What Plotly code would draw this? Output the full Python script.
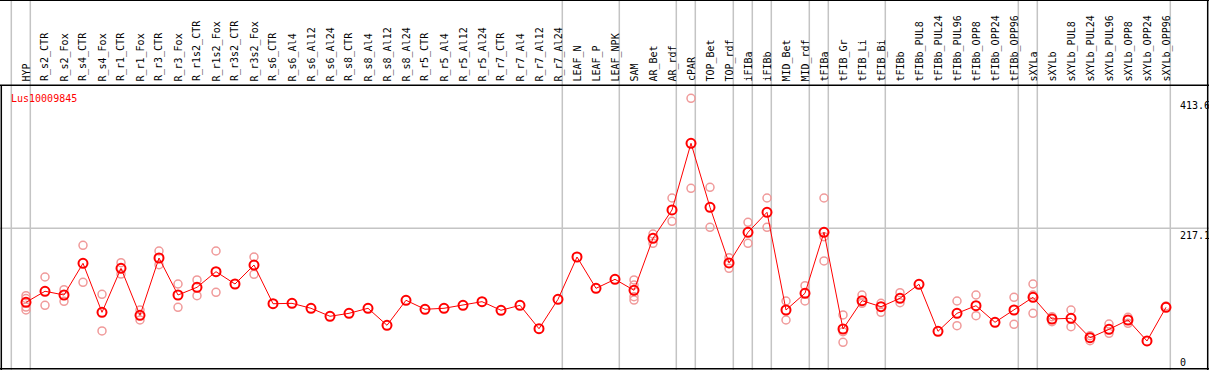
import plotly.graph_objects as go

categories = ["HYP", "R_s2_CTR", "R_s2_Fox", "R_s4_CTR", "R_s4_Fox", "R_r1_CTR", "R_r1_Fox",
              "R_r3_CTR", "R_r3_Fox", "R_r1s2_CTR", "R_r1s2_Fox", "R_r3s2_CTR", "R_r3s2_Fox",
              "R_s6_CTR", "R_s6_Al4", "R_s6_Al12", "R_s6_Al24", "R_s8_CTR", "R_s8_Al4",
              "R_s8_Al12", "R_s8_Al24", "R_r5_CTR", "R_r5_Al4", "R_r5_Al12", "R_r5_Al24",
              "R_r7_CTR", "R_r7_Al4", "R_r7_Al12", "R_r7_Al24", "LEAF_N", "LEAF_P", "LEAF_NPK",
              "SAM", "AR_Bet", "AR_rdf", "cPAR", "TOP_Bet", "TOP_rdf", "iFIBa", "iFIBb",
              "MID_Bet", "MID_rdf", "tFIBa", "tFIB_Gr", "tFIB_Li", "tFIB_Bi", "tFIBb",
              "tFIBb_PUL8", "tFIBb_PUL24", "tFIBb_PUL96", "tFIBb_OPP8", "tFIBb_OPP24",
              "tFIBb_OPP96", "sXYLa", "sXYLb", "sXYLb_PUL8", "sXYLb_PUL24", "sXYLb_PUL96",
              "sXYLb_OPP8", "sXYLb_OPP24", "sXYLb_OPP96"]

mean_values = [105.3, 121.9, 116.3, 164.2, 90.1, 156.6, 85.6, 172.2, 116.3, 127.9, 151.5, 132.9,
               161.6, 103.1, 103.7, 96.2, 84.1, 88.6, 96.2, 70.5, 108.3, 94.7, 96.2, 100.7, 106.2,
               93.2, 100.7, 65.3, 109.8, 173.7, 126.4, 140.0, 123.4, 202.0, 244.8, 345.6, 248.8,
               164.7, 211.1, 241.3, 93.6, 118.9, 211.1, 64.9, 107.7, 98.6, 111.3, 132.5, 61.4,
               88.6, 100.1, 75.0, 93.6, 112.8, 80.0, 81.1, 51.7, 64.4, 78.5, 46.8, 97.7]

# replicate measurements (category, value)
rep_categories = ["HYP", "HYP", "HYP", "HYP",
                  "R_s2_CTR", "R_s2_CTR", "R_s2_Fox", "R_s2_Fox", "R_s4_CTR", "R_s4_CTR",
                  "R_s4_Fox", "R_s4_Fox", "R_r1_CTR", "R_r1_CTR", "R_r1_Fox", "R_r1_Fox",
                  "R_r3_CTR", "R_r3_CTR", "R_r3_Fox", "R_r3_Fox", "R_r1s2_CTR", "R_r1s2_CTR",
                  "R_r1s2_Fox", "R_r1s2_Fox", "R_r3s2_Fox", "R_r3s2_Fox",
                  "SAM", "SAM", "SAM", "SAM", "AR_Bet", "AR_Bet", "AR_rdf", "AR_rdf",
                  "cPAR", "cPAR", "TOP_Bet", "TOP_Bet", "TOP_rdf", "TOP_rdf", "iFIBa", "iFIBa",
                  "iFIBb", "iFIBb", "MID_Bet", "MID_Bet", "MID_rdf", "MID_rdf",
                  "tFIBa", "tFIBa", "tFIBa", "tFIB_Gr", "tFIB_Gr", "tFIB_Gr",
                  "tFIB_Li", "tFIB_Li", "tFIB_Bi", "tFIB_Bi", "tFIBb", "tFIBb",
                  "tFIBb_PUL96", "tFIBb_PUL96", "tFIBb_OPP8", "tFIBb_OPP8",
                  "tFIBb_OPP96", "tFIBb_OPP96", "sXYLa", "sXYLa", "sXYLa",
                  "sXYLb", "sXYLb", "sXYLb_PUL8", "sXYLb_PUL8", "sXYLb_PUL24", "sXYLb_PUL24",
                  "sXYLb_PUL96", "sXYLb_PUL96", "sXYLb_OPP8", "sXYLb_OPP8", "sXYLb_OPP96"]
rep_values = [115.2, 111.0, 98.1, 93.6,
              143.5, 100.7, 124.3, 106.8, 191.4, 135.5,
              117.3, 61.9, 165.1, 148.0, 93.6, 78.5,
              182.8, 162.1, 132.9, 97.7, 139.0, 115.2,
              182.8, 120.4, 173.7, 147.6,
              139.0, 131.4, 113.7, 108.7, 208.5, 194.4, 262.9, 227.7,
              413.6, 277.6, 279.1, 218.6, 172.7, 156.6, 226.2, 194.4,
              262.9, 218.6, 107.2, 78.5, 130.3, 107.2,
              262.9, 204.4, 167.7, 86.1, 60.8, 44.8,
              116.3, 103.7, 103.7, 90.1, 119.8, 104.6,
              107.2, 69.9, 116.3, 85.0,
              112.8, 72.0, 132.9, 116.3, 88.6,
              83.5, 75.9, 93.6, 68.4, 54.8, 47.2,
              72.4, 58.4, 82.6, 73.5, 99.7]

# categories after which a group separator line is drawn ("" = before first)
separator_after = ["", "HYP", "R_r7_Al24", "LEAF_NPK", "AR_rdf", "cPAR", "TOP_rdf", "iFIBa",
                   "iFIBb", "MID_rdf", "tFIBa", "tFIB_Bi", "tFIBb_OPP96", "sXYLa", "sXYLb_OPP96"]

gene_name = "Lus10009845"
max_label = "413.6"
mid_label = "217.1"
zero_label = "0"
max_value = 413.6
mid_value = 217.1

W, H = 1209, 370
FONT = "DejaVu Sans Mono"

idx = {c: i for i, c in enumerate(categories)}
xs_mean = [idx[c] for c in categories]
xs_rep = [idx[c] for c in rep_categories]

fig = go.Figure()
fig.add_trace(go.Scatter(
    x=xs_rep, y=rep_values, mode="markers",
    marker=dict(symbol="circle-open", size=8, color="#f09a9a", line=dict(width=1.5, color="#f09a9a")),
    hoverinfo="skip", showlegend=False))
fig.add_trace(go.Scatter(
    x=xs_mean, y=mean_values, mode="lines+markers",
    line=dict(color="#ff0000", width=1),
    marker=dict(symbol="circle-open", size=9, color="#ff0000", line=dict(width=2, color="#ff0000")),
    showlegend=False))

# pixel geometry
x_first_px, x_step_px = 26.0, 19.0
x0 = -x_first_px / x_step_px
x1 = (W - x_first_px) / x_step_px
y_mid_px = 228.3
px_per_unit = 0.6616
ybot = mid_value - (H - y_mid_px) / px_per_unit
ytop = mid_value + y_mid_px / px_per_unit
frame_top_px = 85.3

shapes = []
for s in separator_after:
    xv = (idx[s] if s else -1) + 4.3 / x_step_px
    shapes.append(dict(type="line", xref="x", yref="paper", x0=xv, x1=xv, y0=0, y1=1,
                       line=dict(color="#c4c4c4", width=1.5), layer="below"))
shapes.append(dict(type="line", xref="paper", yref="y", x0=0, x1=1, y0=mid_value, y1=mid_value,
                   line=dict(color="#c4c4c4", width=1.5), layer="below"))
ft = 1 - frame_top_px / H
shapes.append(dict(type="line", xref="paper", yref="paper", x0=0, x1=1, y0=ft, y1=ft,
                   line=dict(color="black", width=1.5)))
shapes.append(dict(type="line", xref="paper", yref="paper", x0=0, x1=1, y0=1 - 0.5 / H, y1=1 - 0.5 / H,
                   line=dict(color="black", width=1)))
shapes.append(dict(type="line", xref="paper", yref="paper", x0=0, x1=1, y0=1.2 / H, y1=1.2 / H,
                   line=dict(color="black", width=1.5)))
shapes.append(dict(type="line", xref="paper", yref="paper", x0=1.3 / W, x1=1.3 / W, y0=0, y1=ft,
                   line=dict(color="black", width=1.5)))
xr = 1 - 1.3 / W
shapes.append(dict(type="line", xref="paper", yref="paper", x0=xr, x1=xr, y0=0, y1=1,
                   line=dict(color="black", width=1.5)))

annotations = []
label_bottom = 1 - 83.5 / H
for c in categories:
    annotations.append(dict(x=idx[c], y=label_bottom, xref="x", yref="paper", text=c,
                            textangle=-90, showarrow=False, xanchor="center", yanchor="bottom",
                            font=dict(family=FONT, size=10, color="black")))
annotations.append(dict(x=9 / W, y=1 - 91 / H, xref="paper", yref="paper", text=gene_name,
                        showarrow=False, xanchor="left", yanchor="top",
                        font=dict(family=FONT, size=10, color="#ff0000")))
lab_x = 1177.5 / W
annotations.append(dict(x=lab_x, y=max_value, xref="paper", yref="y", text=max_label,
                        showarrow=False, xanchor="left", yanchor="top",
                        font=dict(family=FONT, size=10, color="black")))
annotations.append(dict(x=lab_x, y=mid_value, xref="paper", yref="y", text=mid_label,
                        showarrow=False, xanchor="left", yanchor="top",
                        font=dict(family=FONT, size=10, color="black")))
annotations.append(dict(x=lab_x, y=1 - 355 / H, xref="paper", yref="paper", text=zero_label,
                        showarrow=False, xanchor="left", yanchor="top",
                        font=dict(family=FONT, size=10, color="black")))

fig.update_layout(
    width=W, height=H, margin=dict(l=0, r=0, t=0, b=0),
    paper_bgcolor="white", plot_bgcolor="white",
    xaxis=dict(range=[x0, x1], visible=False, fixedrange=True),
    yaxis=dict(range=[ybot, ytop], visible=False, fixedrange=True),
    shapes=shapes, annotations=annotations, showlegend=False,
)

fig.write_html("out.html", config={"displayModeBar": False},
               post_script="document.body.style.margin='0';document.body.style.overflow='hidden';")
